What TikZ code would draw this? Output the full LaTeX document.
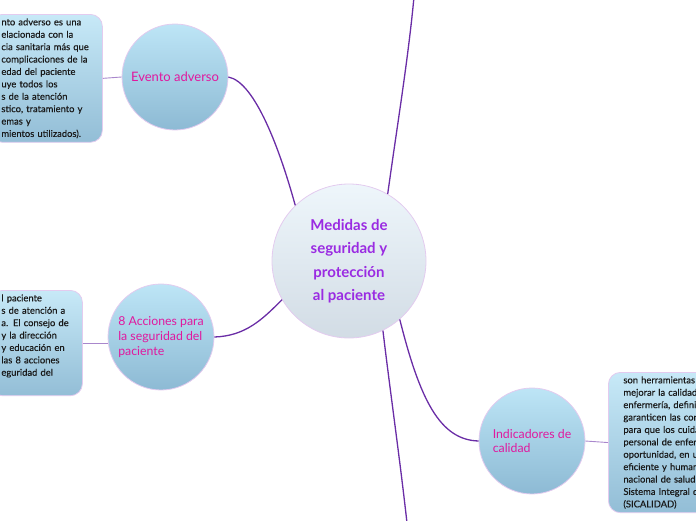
\documentclass[tikz,border=0pt]{standalone}
\usepackage{fontspec}
\setmainfont{Lato}
\newfontfamily\notefont[FakeBold=0.3]{Lato}
\definecolor{ring}{HTML}{E3CBEF}
\definecolor{branchcol}{HTML}{6A2DA6}
\definecolor{linkcol}{HTML}{A987CC}
\definecolor{huetop}{HTML}{EEF6FB}
\definecolor{huebot}{HTML}{D2DCE5}
\definecolor{bluetop}{HTML}{BDE5F6}
\definecolor{bluebot}{HTML}{8DBAD4}
\definecolor{hubtext}{HTML}{9A2BE2}
\definecolor{topictext}{HTML}{E0189E}
\tikzset{
  hub/.style={circle, draw=ring, line width=0.8pt, top color=huetop, bottom color=huebot,
    minimum size=154pt, inner sep=0pt, align=center, text=hubtext,
    font=\fontsize{15}{23.5}\selectfont\bfseries},
  topic/.style={circle, draw=ring, line width=0.8pt, top color=bluetop, bottom color=bluebot,
    minimum size=106pt, inner sep=0pt, text=topictext, font=\fontsize{13}{14.8}\selectfont},
  note/.style={rectangle, rounded corners=12pt, draw=ring, line width=0.8pt,
    top color=bluetop!85!white, bottom color=bluebot!95!white, align=left,
    inner xsep=11pt, inner ysep=4pt, text=black!90,
    font=\notefont\fontsize{9.4}{12.4}\selectfont},
  branch/.style={draw=branchcol, line width=1.3pt},
  link/.style={draw=linkcol, line width=0.9pt}
}
\begin{document}
\begin{tikzpicture}[x=1pt, y=-1pt]
\useasboundingbox (0,0) rectangle (696,520);
% central topic
\node[hub] (hub) at (349,261) {Medidas de\\seguridad y\\protección\\ al paciente};
% main topics
\node[topic] (evento) at (175,77) {Evento adverso};
\node[topic, align=left, font=\fontsize{12.3}{14.6}\selectfont] (acciones) at (161,337) {8 Acciones para\\la seguridad del\\paciente};
\node[topic, align=left, font=\fontsize{12.3}{14.6}\selectfont] (indicadores) at (532,441) {Indicadores de\\calidad};
% notes
\node[note, anchor=north west, text width=90pt, minimum height=126pt] (eventonota) at (-10,14)
  {nto adverso es una\\elacionada con la\\cia sanitaria más que\\ complicaciones de la\\edad del paciente\\uye todos los\\s de la atención\\stico, tratamiento y\\emas y\\mientos utilizados).};
\node[note, anchor=north west, text width=70pt, minimum height=101pt] (accionesnota) at (-10,290)
  {l paciente\\s de atención a\\a. El consejo de\\y la dirección\\y educación en\\las 8 acciones\\eguridad del\rule[-16pt]{0pt}{1pt}};
\node[note, anchor=north west, inner xsep=15pt, text width=120pt, minimum height=138pt] (indicadoresnota) at (608,372)
  {son herramientas\\mejorar la calidad\\enfermería, defini\\garanticen las con\\para que los cuida\\personal de enfer\\oportunidad, en u\\eficiente y humano\\nacional de salud\\Sistema Integral d\\(SICALIDAD)};
% free ends of the cut branches
\coordinate (arriba) at (414,-3);
\coordinate (abajo) at (407,523);
% branches
\draw[branch] (hub.60) .. controls (398,120) and (408,60) .. (arriba);
\draw[branch] (hub.-64) .. controls (390,390) and (400,460) .. (abajo);
\draw[branch] (hub.-49) .. controls (420,400) and (440,440) .. (indicadores.west);
\draw[branch] (hub.134) .. controls (280,150) and (255,82) .. (evento.east);
\draw[branch] (hub.210) .. controls (262,320) and (245,336) .. (acciones.east);
% note links
\draw[link] (evento.west) -- (eventonota.east);
\draw[link] (accionesnota.east) -- (accionesnota.east -| acciones.west);
\draw[link] (indicadores.east) -- (indicadoresnota.west);
\end{tikzpicture}
\end{document}
